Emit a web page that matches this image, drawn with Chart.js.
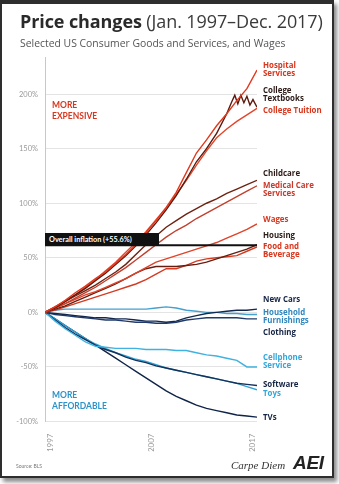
<!DOCTYPE html>
<html>
<head>
<meta charset="utf-8">
<script src="https://cdn.jsdelivr.net/npm/chart.js@4.4.1/dist/chart.umd.min.js"></script>
<style>
  html, body { margin: 0; padding: 0; background: #fff; }
  body { width: 339px; height: 484px; position: relative; overflow: hidden; font-family: Lato, "Open Sans", sans-serif; }
  #card { position: absolute; left: 0; top: 0; width: 334px; height: 478px; box-sizing: border-box;
          border: 2px solid #2e2e2e; border-top-width: 4px; box-shadow: 3px 4px 4px rgba(0,0,0,0.45); background: #fff; }
  #myChart { position: absolute; left: 0; top: 0; }
  .txt { position: absolute; white-space: nowrap; }
  .title { left: 20px; top: 10px; font-family: "Open Sans", sans-serif; font-size: 18px; line-height: 22px; color: #2a2a2a; letter-spacing: -0.1px; }
  .title b { font-weight: 700; }
  .title span { font-weight: 400; color: #3a3a3a; }
  .sub { left: 20px; top: 36px; font-family: "Open Sans", sans-serif; font-size: 10.4px; line-height: 14px; color: #555; }
  .side { font-family: "Open Sans", sans-serif; font-weight: 700; font-size: 7.9px; line-height: 8px; }
  .zone { font-weight: 700; font-size: 8.5px; line-height: 10.5px; }
  #infl { left: 45px; top: 233px; width: 114px; height: 13px; background: #111; color: #fff;
          font-weight: 700; font-size: 7.3px; line-height: 13px; padding-left: 4px; box-sizing: border-box; }
  .source { left: 16px; top: 463px; font-size: 5px; color: #777; }
  .carpe { left: 231px; top: 459px; font-family: "Liberation Serif", serif; font-style: italic; font-size: 11px; color: #333; }
  .aei { left: 293px; top: 452px; font-family: "Liberation Sans", sans-serif; font-style: italic; font-weight: 700; font-size: 19px; color: #222; letter-spacing: -0.3px; }
</style>
</head>
<body>
<div id="card"></div>
<canvas id="myChart" width="339" height="484"></canvas>
<div class="txt title"><b>Price changes</b> <span>(Jan. 1997–Dec. 2017)</span></div>
<div class="txt sub">Selected US Consumer Goods and Services, and Wages</div>
<div class="txt zone" style="left:52px; top:100px; color:#d8361d">MORE<br>EXPENSIVE</div>
<div class="txt zone" style="left:52px; top:390px; color:#2c93c8">MORE<br>AFFORDABLE</div>
<div class="txt" id="infl">Overall inflation (+55.6%)</div>
<div class="txt source">Source: BLS</div>
<div class="txt carpe">Carpe Diem</div>
<div class="txt aei">AEI</div>
<script>
// x positions: start of each year, last point = end of Dec 2017
const years = [1997, 1998, 1999, 2000, 2001, 2002, 2003, 2004, 2005, 2006, 2007,
               2008, 2009, 2010, 2011, 2012, 2013, 2014, 2015, 2016, 2017, 2018]
const textbookYears = [1997, 1998, 1999, 2000, 2001, 2002, 2003, 2004, 2005, 2006, 2007,
               2008, 2009, 2010, 2011, 2012, 2013, 2014, 2015, 2015.5, 2015.8, 2016.1,
               2016.4, 2016.7, 2017, 2017.3, 2017.6, 2018]
const tickYears = [1997.5, 2007.5, 2017.5]
const yTicks = [-100, -50, 0, 50, 100, 150, 200]

// percent change since Jan 1997
const hospital  = [0, 5, 11, 18, 24, 31, 37, 45, 53, 62, 73, 84, 96, 110, 128, 146, 158, 171, 182, 194, 205, 222]
const textbooks = [0, 4, 10, 16, 22, 29, 36, 44, 52, 61, 71, 82, 94, 107, 122, 138, 150, 164, 182,
                   193, 199, 191, 199, 192, 198, 190, 195, 188]
const tuition   = [0, 5, 10, 16, 23, 30, 38, 46, 55, 64, 74, 85, 96, 108, 121, 135, 148, 160, 168, 175, 181, 187]
const childcare = [0, 5, 10, 15, 20, 25, 31, 37, 44, 53, 62, 70, 78, 84, 90, 95, 100, 104, 109, 113, 117, 121]
const medical   = [0, 4, 8, 13, 18, 23, 29, 35, 41, 48, 55, 62, 69, 75, 80, 86, 91, 96, 101, 106, 111, 116]
const wages     = [0, 4, 8, 12, 16, 19, 23, 27, 31, 36, 41, 46, 49, 52, 55, 58, 61, 64, 68, 72, 76, 81]
const housing   = [0, 3, 6, 10, 14, 18, 22, 26, 31, 36, 40, 42, 42, 42, 43, 44, 46, 49, 52, 55, 58, 62]
const food      = [0, 2, 5, 8, 11, 14, 17, 20, 23, 26, 30, 35, 40, 40, 43, 47, 49, 50, 51, 52, 56, 60]
const inflation = [61.5, 61.5]
const newCars   = [0, -1, -2, -3, -4, -5, -5, -6, -6, -7, -8, -8, -9, -8, -5, -3, -1, 0, 1, 2, 2, 3]
const household = [0, 2, 3, 3, 3, 3, 3, 3, 3, 3, 3, 4, 5, 4, 2, 1, 0, 0, -1, -1, -2, -2]
const clothing  = [0, -2, -3, -4, -5, -6, -7, -7, -8, -9, -9, -10, -10, -9, -7, -6, -5, -5, -5, -5, -6, -6]
const cellphone = [0, -8, -15, -21, -27, -31, -32, -33, -33, -33, -34, -34, -34, -35, -35, -37, -39, -40, -42, -44, -50, -50]
const software  = [0, -7, -14, -20, -25, -30, -34, -37, -41, -44, -46, -49, -51, -53, -55, -57, -59, -61, -63, -65, -66, -67]
const toys      = [0, -6, -12, -18, -24, -29, -33, -37, -40, -43, -45, -48, -51, -53, -55, -57, -59, -61, -63, -65, -68, -71]
const tvs       = [0, -6, -12, -18, -24, -30, -36, -42, -48, -54, -60, -66, -72, -77, -81, -85, -88, -90, -92, -94, -95, -96]

function pts(xs, ys) {
  return ys.map((v, i) => ({ x: xs[i], y: v }))
}

function line(label, xs, ys, color, width) {
  return {
    label: label,
    data: pts(xs, ys),
    borderColor: color,
    backgroundColor: color,
    borderWidth: width || 1.4,
    pointRadius: 0,
    tension: 0,
    fill: false,
  }
}

const data = {
  datasets: [
    line('Overall inflation', [1997, 2018], inflation, '#111111', 2),
    line('Hospital Services', years, hospital, '#e2381d'),
    line('College Textbooks', textbookYears, textbooks, '#5c1a0e'),
    line('College Tuition', years, tuition, '#e5452a'),
    line('Childcare', years, childcare, '#6e2212'),
    line('Medical Care Services', years, medical, '#c2402e'),
    line('Wages', years, wages, '#e0432a'),
    line('Housing', years, housing, '#651f10'),
    line('Food and Beverage', years, food, '#d63b22'),
    line('New Cars', years, newCars, '#13284f'),
    line('Household Furnishings', years, household, '#45a0d0'),
    line('Clothing', years, clothing, '#1f3a6b'),
    line('Cellphone Service', years, cellphone, '#3fb2e0'),
    line('Software', years, software, '#16305a'),
    line('Toys', years, toys, '#2fa3d6'),
    line('TVs', years, tvs, '#0f2448'),
  ],
}

const config = {
  type: 'line',
  data: data,
  options: {
    responsive: false,
    animation: false,
    layout: { padding: { top: 57, right: 82, bottom: 32.5, left: 0 } },
    plugins: {
      legend: { display: false },
      tooltip: { enabled: false },
    },
    scales: {
      x: {
        type: 'linear',
        min: 1997,
        max: 2018,
        afterBuildTicks: axis => { axis.ticks = tickYears.map(v => ({ value: v })) },
        afterFit: scale => { scale.height = 30 },
        grid: { display: false },
        border: { display: false },
        ticks: {
          autoSkip: false,
          minRotation: 90,
          maxRotation: 90,
          padding: 4,
          color: '#9a9a9a',
          font: { family: 'Lato', size: 8 },
          callback: v => String(Math.floor(v)),
        },
      },
      y: {
        min: -100,
        max: 234,
        afterBuildTicks: axis => { axis.ticks = yTicks.map(v => ({ value: v })) },
        afterFit: scale => { scale.width = 45 },
        grid: { color: '#e4e4e4', drawTicks: false },
        border: { color: '#c8c8c8' },
        ticks: {
          padding: 7,
          color: '#9a9a9a',
          font: { family: 'Lato', size: 7.5 },
          callback: v => v + '%',
        },
      },
    },
  },
}

new Chart(document.getElementById('myChart'), config)

// end labels on the right
const red = '#d8361d', dark = '#2b1a17', navy = '#142445', mid = '#2f86bf', light = '#33a7da'
const sideLabels = [
  ['Hospital<br>Services', red, 61],
  ['College<br>Textbooks', dark, 86],
  ['College Tuition', red, 105.5],
  ['Childcare', dark, 169],
  ['Medical Care<br>Services', '#c93a2b', 180.5],
  ['Wages', red, 214.5],
  ['Housing', dark, 230.5],
  ['Food and<br>Beverage', red, 241.5],
  ['New Cars', navy, 295],
  ['Household<br>Furnishings', mid, 307.5],
  ['Clothing', navy, 327.5],
  ['Cellphone<br>Service', light, 352.5],
  ['Software', navy, 380],
  ['Toys', light, 388.5],
  ['TVs', navy, 412.5],
]
sideLabels.forEach(function (l) {
  const d = document.createElement('div')
  d.className = 'txt side'
  d.style.left = '263px'
  d.style.top = l[2] + 'px'
  d.style.color = l[1]
  d.innerHTML = l[0]
  document.body.appendChild(d)
})
</script>
</body>
</html>
